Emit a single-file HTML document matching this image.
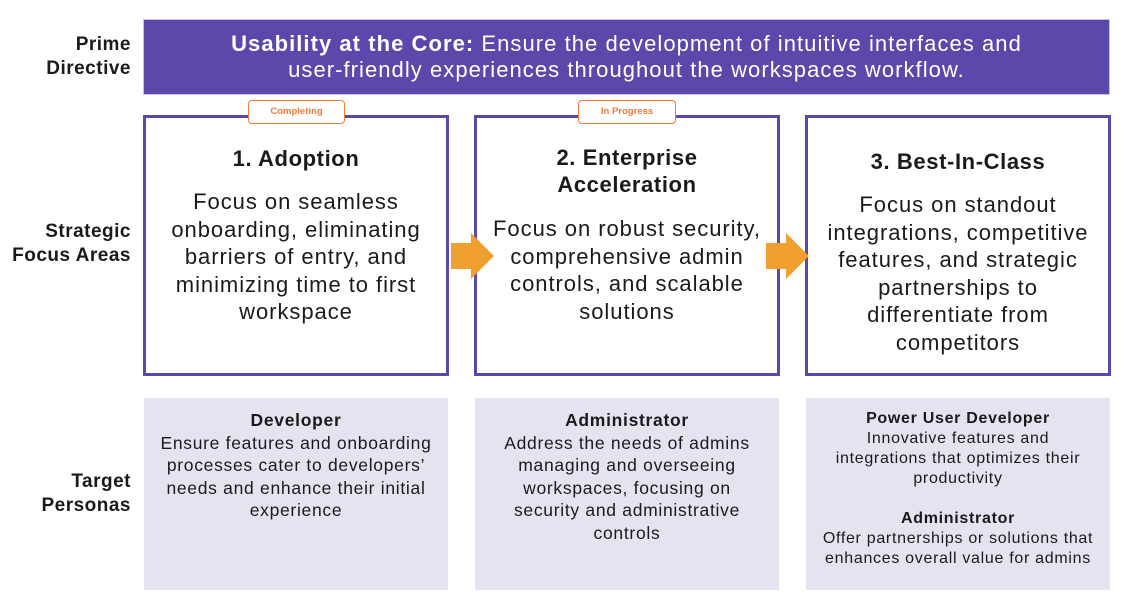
<!DOCTYPE html>
<html><head><style>
body{margin:0;width:1136px;height:609px;background:#fff;font-family:"Liberation Sans",sans-serif;position:relative;overflow:hidden;color:#1a1a1a}
.abs{position:absolute}
.lbl{position:absolute;font-weight:bold;font-size:19px;text-align:right;line-height:24px;width:140px;left:-9px;letter-spacing:0.5px}
.banner{left:143px;top:19px;width:967px;height:76px;background:#5c48aa;color:#fff;font-size:22px;line-height:26px;text-align:center;display:flex;align-items:center;justify-content:center;box-sizing:border-box;border:1px solid #c9c1e6;letter-spacing:1.05px}
.box{position:absolute;top:115px;width:306px;height:261px;border:3px solid #5c48aa;box-sizing:border-box;text-align:center}
.box h2{font-size:22px;margin:0;line-height:27px;letter-spacing:0.6px}
.box p{font-size:22px;line-height:27.5px;margin:0 -10px;letter-spacing:0.95px}
.badge{position:absolute;top:100px;height:24px;border:1.5px solid #f07a3a;border-radius:4px;background:#fff;color:#f07a3a;font-size:9.5px;font-weight:bold;box-sizing:border-box;line-height:22px;text-align:center}
.p{position:absolute;top:398px;width:304px;height:192px;background:#e6e3f1;text-align:center;font-size:17.5px;line-height:22.5px;letter-spacing:0.7px}
.p b{font-size:17.5px}
</style></head><body>
<div class="lbl" style="top:33px">Prime<br>Directive</div>
<div class="lbl" style="top:220px">Strategic<br>Focus Areas</div>
<div class="lbl" style="top:470px">Target<br>Personas</div>
<div class="abs banner"><div><b>Usability at the Core:</b> Ensure the development of intuitive interfaces and<br>user-friendly experiences throughout the workspaces workflow.</div></div>

<div class="box" style="left:143px"><h2 style="margin-top:27px">1. Adoption</h2><p style="margin-top:16px">Focus on seamless<br>onboarding, eliminating<br>barriers of entry, and<br>minimizing time to first<br>workspace</p></div>
<div class="box" style="left:474px"><h2 style="margin-top:26px">2. Enterprise<br>Acceleration</h2><p style="margin-top:17px">Focus on robust security,<br>comprehensive admin<br>controls, and scalable<br>solutions</p></div>
<div class="box" style="left:805px"><h2 style="margin-top:30px">3. Best-In-Class</h2><p style="margin-top:16px">Focus on standout<br>integrations, competitive<br>features, and strategic<br>partnerships to<br>differentiate from<br>competitors</p></div>

<div class="badge" style="left:248px;width:97px">Completing</div>
<div class="badge" style="left:578px;width:98px">In Progress</div>

<svg class="abs" style="left:0;top:0" width="1136" height="609">
<polygon points="451,243 471,243 471,233 494,256 471,279 471,269 451,269" fill="#f0a030"/>
<polygon points="766,243 786,243 786,233 809,256 786,279 786,269 766,269" fill="#f0a030"/>
</svg>

<div class="p" style="left:144px"><div style="margin-top:11px"><b>Developer</b><br>Ensure features and onboarding<br>processes cater to developers’<br>needs and enhance their initial<br>experience</div></div>
<div class="p" style="left:475px"><div style="margin-top:11px"><b>Administrator</b><br>Address the needs of admins<br>managing and overseeing<br>workspaces, focusing on<br>security and administrative<br>controls</div></div>
<div class="p" style="left:806px;font-size:16px;line-height:20px"><div style="margin-top:11px"><b style="font-size:16px">Power User Developer</b><br>Innovative features and<br>integrations that optimizes their<br>productivity<br><br><b style="font-size:16px">Administrator</b><br>Offer partnerships or solutions that<br>enhances overall value for admins</div></div>
</body></html>
